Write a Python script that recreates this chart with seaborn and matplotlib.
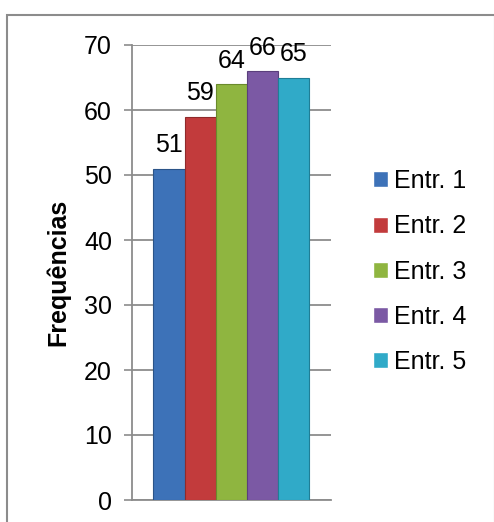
import pandas as pd
import seaborn as sns
import matplotlib.pyplot as plt
from matplotlib.patches import Rectangle

# Chart data
series = ["Entr. 1", "Entr. 2", "Entr. 3", "Entr. 4", "Entr. 5"]
freqs = [51, 59, 64, 66, 65]
colors = ["#3d72b8", "#c23b3c", "#8fb540", "#7b59a4", "#30aac8"]
edges = ["#2b5488", "#8f2a2b", "#6a8a2c", "#5a3f7c", "#1f7e96"]
y_ticks = [0, 10, 20, 30, 40, 50, 60, 70]

W, H = 494, 522
GRAY = "#8c8c8c"
FS = 18

df = pd.DataFrame({"grupo": [""] * len(series), "serie": series, "freq": freqs})

sns.set_style("white")
plt.rcParams["font.family"] = ["Liberation Sans", "DejaVu Sans"]
plt.rcParams["text.color"] = "black"
plt.rcParams["axes.labelcolor"] = "black"
plt.rcParams["ytick.labelcolor"] = "black"

fig = plt.figure(figsize=(W / 100, H / 100), dpi=100)

# outer chart frame (bottom/right run off the image)
fig.patches.append(Rectangle((7 / W, -0.05), (487.5 / W), (H - 15) / H + 0.05,
                             transform=fig.transFigure, fill=False,
                             edgecolor=GRAY, linewidth=1.5, zorder=0))

ax = fig.add_axes([131.5 / W, 22 / H, (331 - 131.5) / W, 455 / H])

sns.barplot(data=df, x="grupo", y="freq", hue="serie", palette=colors,
            saturation=1, width=0.78, ax=ax, legend=True, zorder=3)

for cont, ec in zip(ax.containers, edges):
    for p in cont:
        p.set_edgecolor(ec)
        p.set_linewidth(0.8)
    ax.bar_label(cont, fmt="%d", padding=8, fontsize=FS, color="black")

ax.set_xlim(-0.5, 0.5)
ax.set_ylim(0, 70)
ax.set_yticks(y_ticks)
ax.set_xticks([])
ax.set_xlabel("")
ax.set_ylabel("Frequências", fontsize=FS, fontweight="bold", labelpad=10)
ax.tick_params(axis="y", labelsize=FS, length=6, width=1.2, color=GRAY, pad=8, left=True)
ax.yaxis.grid(True, color=GRAY, linewidth=1.3)
ax.set_axisbelow(True)

for side in ["top", "right"]:
    ax.spines[side].set_visible(False)
for side in ["left", "bottom"]:
    ax.spines[side].set_color(GRAY)
    ax.spines[side].set_linewidth(1.3)

handles, labels = ax.get_legend_handles_labels()
ax.legend(handles, labels, loc="center left",
          bbox_to_anchor=(373 / W, (H - 271.7) / H), bbox_transform=fig.transFigure,
          frameon=False, fontsize=FS, borderpad=0, borderaxespad=0,
          handlelength=0.6, handleheight=0.6, handletextpad=0.25, labelspacing=0.85)

fig.savefig("out.png", dpi=100)
